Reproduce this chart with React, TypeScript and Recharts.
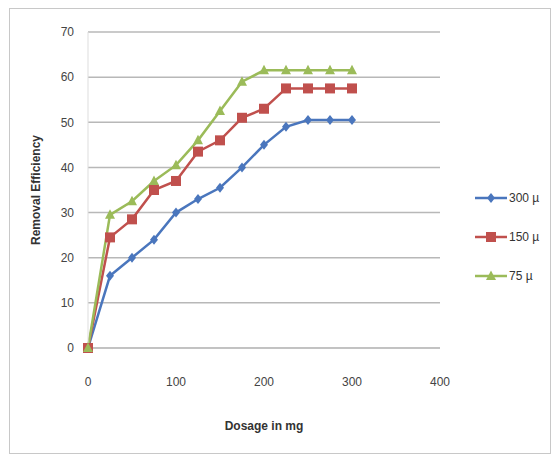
import React from 'react';
import { LineChart, Line, XAxis, YAxis, CartesianGrid, Label } from 'recharts';

// dosage in mg
const dosage = [0, 25, 50, 75, 100, 125, 150, 175, 200, 225, 250, 275, 300];
const eff300 = [0, 16, 20, 24, 30, 33, 35.5, 40, 45, 49, 50.5, 50.5, 50.5];
const eff150 = [0, 24.5, 28.5, 35, 37, 43.5, 46, 51, 53, 57.5, 57.5, 57.5, 57.5];
const eff75 = [0, 29.5, 32.5, 37, 40.5, 46, 52.5, 59, 61.5, 61.5, 61.5, 61.5, 61.5];
const xTicks = [0, 100, 200, 300, 400];
const yTicks = [0, 10, 20, 30, 40, 50, 60, 70];

const rows = dosage.map((d, i) => ({ dosage: d, s300: eff300[i], s150: eff150[i], s75: eff75[i] }));

const BLUE = '#4a76bd';
const RED = '#c0504d';
const GREEN = '#9bbb59';
const FONT = '"Liberation Sans Narrow", "Liberation Sans", sans-serif';

const Marker = ({ kind, cx, cy, color }: { kind: string; cx: number; cy: number; color: string }) => {
  if (kind === 'diamond') {
    return <polygon points={`${cx},${cy - 5} ${cx + 4},${cy} ${cx},${cy + 5} ${cx - 4},${cy}`} fill={color} />;
  }
  if (kind === 'square') {
    return <rect x={cx - 5} y={cy - 5} width={10} height={10} fill={color} />;
  }
  return <polygon points={`${cx},${cy - 5.5} ${cx + 5},${cy + 4} ${cx - 5},${cy + 4}`} fill={color} />;
};

const dot = (kind: string, color: string) => (p: any) => (
  <Marker key={p.index} kind={kind} cx={p.cx} cy={p.cy} color={color} />
);

const series = [
  { key: 's300', name: '300 µ', color: BLUE, kind: 'diamond' },
  { key: 's150', name: '150 µ', color: RED, kind: 'square' },
  { key: 's75', name: '75 µ', color: GREEN, kind: 'triangle' },
];

// legend drawn beside the plot so it doesn't shrink the plot area
const LegendBox = () => (
  <div style={{ position: 'absolute', left: 474, top: 178, fontFamily: FONT, fontSize: 12, color: '#333' }}>
    {series.map((s) => (
      <div key={s.key} style={{ display: 'flex', alignItems: 'center', height: 39 }}>
        <svg width={34} height={14}>
          <line x1={1} y1={7} x2={33} y2={7} stroke={s.color} strokeWidth={2.5} />
          <Marker kind={s.kind} cx={17} cy={7} color={s.color} />
        </svg>
        <span style={{ marginLeft: 1 }}>{s.name}</span>
      </div>
    ))}
  </div>
);

export default function App() {
  return (
    <div style={{ position: 'absolute', left: 0, top: 0, width: 554, height: 457, background: '#fff' }}>
      <div style={{ position: 'absolute', left: 9, top: 8, width: 540, height: 444, border: '1px solid #c8c8c8' }} />
      <LineChart
        width={554}
        height={457}
        data={rows}
        margin={{ top: 32, right: 114, bottom: 79, left: 48 }}
        style={{ position: 'absolute', left: 0, top: 0 }}
      >
        <CartesianGrid vertical={false} stroke="#b8b8b8" strokeWidth={1.5} />
        <XAxis
          dataKey="dosage"
          type="number"
          domain={[0, 400]}
          ticks={xTicks}
          height={30}
          tickLine={false}
          axisLine={{ stroke: '#bbb' }}
          tick={{ fontSize: 12, fill: '#444', fontFamily: FONT }}
          tickMargin={23}
        >
          <Label value="Dosage in mg" position="insideBottom" offset={-52} style={{ fontSize: 12, fontWeight: 'bold', fill: '#333', fontFamily: FONT }} />
        </XAxis>
        <YAxis
          type="number"
          domain={[0, 70]}
          ticks={yTicks}
          width={40}
          tickLine={false}
          axisLine={{ stroke: '#ddd' }}
          tick={{ fontSize: 12, fill: '#444', fontFamily: FONT }}
          tickMargin={8}
        >
          <Label value="Removal Efficiency" angle={-90} position="insideLeft" offset={-12} style={{ textAnchor: 'middle', fontSize: 12, fontWeight: 'bold', fill: '#333', fontFamily: FONT }} />
        </YAxis>
        {series.map((s) => (
          <Line
            key={s.key}
            dataKey={s.key}
            name={s.name}
            type="linear"
            stroke={s.color}
            strokeWidth={2.5}
            dot={dot(s.kind, s.color)}
            activeDot={false}
            isAnimationActive={false}
          />
        ))}
      </LineChart>
      <LegendBox />
    </div>
  );
}
